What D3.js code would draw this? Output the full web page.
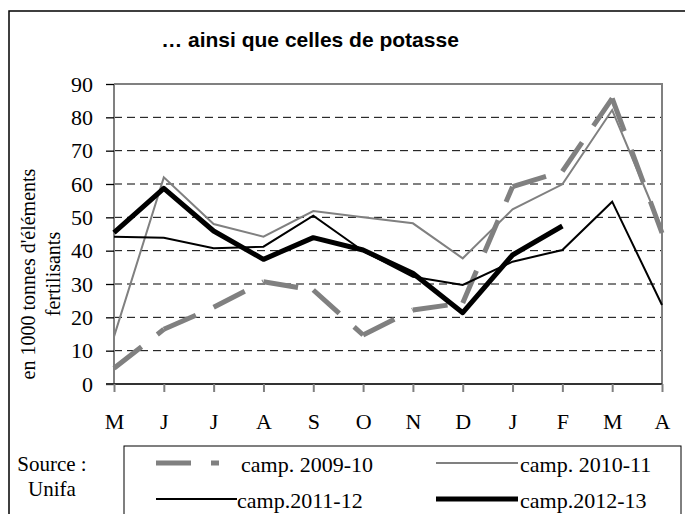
<!DOCTYPE html>
<html><head><meta charset="utf-8">
<script src="https://cdn.jsdelivr.net/npm/d3@7/dist/d3.min.js"></script>
<style>body{margin:0;background:#fff}svg{display:block}
.serif{font-family:"Liberation Serif","Times New Roman",serif !important}
</style>
</head><body>
<script>
const months = ["M","J","J","A","S","O","N","D","J","F","M","A"];
const yTicks = [0,10,20,30,40,50,60,70,80,90];
const camp0910 = [4.7,16.4,23,30.7,28.2,14.7,22.2,24.3,59.2,63.8,85.7,45.3];
const camp1011 = [14.2,62,48,44.2,51.9,50,48.2,37.7,52.4,59.9,82.2,46.5];
const camp1112 = [44.2,43.9,40.7,41.2,50.5,39.9,32.2,29.7,36.7,40.2,54.7,23.7];
const camp1213 = [45.4,58.7,45.9,37.4,43.9,40.2,33.2,21.4,38.7,47.4];
const seriesNames = ["camp. 2009-10","camp. 2010-11","camp.2011-12","camp.2012-13"];

const W=685,H=514;
const svg=d3.select("body").append("svg").attr("width",W).attr("height",H);

// outer frame
svg.append("rect").attr("x",9).attr("y",11).attr("width",700).attr("height",540)
  .attr("fill","none").attr("stroke","#000").attr("stroke-width",1.5);

svg.append("text").attr("x",310).attr("y",47).attr("text-anchor","middle")
  .style("font-family","'Liberation Sans',Arial,sans-serif").attr("font-weight","bold")
  .attr("font-size",21).text("… ainsi que celles de potasse");

const x=d3.scalePoint().domain(d3.range(months.length)).range([114,662]);
const y=d3.scaleLinear().domain([0,90]).range([384,84]);

// gridlines
svg.append("g").selectAll("line").data(yTicks.filter(t=>t>0&&t<90)).join("line")
  .attr("x1",114).attr("x2",662).attr("y1",d=>y(d)).attr("y2",d=>y(d))
  .attr("stroke","#000").attr("stroke-width",1).attr("stroke-dasharray","8,5");

// plot frame top & right
svg.append("path").attr("d",`M114,${y(90)}H662V${y(0)}`).attr("fill","none")
  .attr("stroke","#808080").attr("stroke-width",2);

// y axis
const ya=svg.append("g").attr("transform","translate(114,0)")
  .call(d3.axisLeft(y).tickValues(yTicks).tickSize(8).tickPadding(13).tickFormat(d3.format("d")));
ya.attr("font-family",null);
ya.select(".domain").attr("stroke","#808080").attr("stroke-width",2).attr("d",`M0,${y(0)}V${y(90)}`);
ya.selectAll(".tick line").attr("stroke","#000").attr("stroke-width",1.3);
ya.selectAll("text").attr("class","serif").attr("font-size",22).attr("fill","#000");

// x axis
const xa=svg.append("g").attr("transform",`translate(0,${y(0)})`)
  .call(d3.axisBottom(x).tickSize(8).tickPadding(21).tickFormat(i=>months[i]));
xa.attr("font-family",null);
xa.select(".domain").attr("stroke","#333").attr("stroke-width",2).attr("d","M106,0H662");
xa.selectAll(".tick line").attr("stroke","#808080").attr("stroke-width",2);
xa.selectAll("text").attr("class","serif").attr("font-size",22).attr("fill","#000");

// y title
const yt=svg.append("g").attr("transform","translate(0,274) rotate(-90)");
yt.append("text").attr("class","serif").attr("x",0).attr("y",35).attr("text-anchor","middle")
  .attr("font-size",20).text("en 1000 tonnes d'éléments");
yt.append("text").attr("class","serif").attr("x",0).attr("y",60).attr("text-anchor","middle")
  .attr("font-size",20).text("fertilisants");

const line=d3.line().x((d,i)=>x(i)).y(d=>y(d));
const lineXY=d3.line().x(d=>x(d[0])).y(d=>y(d[1]));

// 2009-10 dashed, pattern restarting at each vertex
const segs=d3.pairs(camp0910.map((v,i)=>[i,v]));
svg.append("g").selectAll("path").data(segs).join("path")
  .attr("d",d=>lineXY(d)).attr("fill","none").attr("stroke","#808080")
  .attr("stroke-width",5).attr("stroke-dasharray","35,20");
svg.append("path").attr("d",line(camp1011)).attr("fill","none").attr("stroke","#808080").attr("stroke-width",2);
svg.append("path").attr("d",line(camp1112)).attr("fill","none").attr("stroke","#000").attr("stroke-width",2);
svg.append("path").attr("d",line(camp1213)).attr("fill","none").attr("stroke","#000").attr("stroke-width",5)
  .attr("stroke-linejoin","round");

// source
svg.append("text").attr("class","serif").attr("x",52).attr("y",471).attr("text-anchor","middle").attr("font-size",21).text("Source :");
svg.append("text").attr("class","serif").attr("x",52).attr("y",496).attr("text-anchor","middle").attr("font-size",21).text("Unifa");

// legend
svg.append("rect").attr("x",124).attr("y",446).attr("width",557).attr("height",100)
  .attr("fill","none").attr("stroke","#000").attr("stroke-width",1);
const leg=[
  {x1:156,x2:237,y:463,tx:241,ty:472,c:"#808080",w:5,dash:"35,20,8,100"},
  {x1:436,x2:518,y:463,tx:520,ty:472,c:"#808080",w:2,dash:null},
  {x1:156,x2:237,y:499,tx:237,ty:508,c:"#000",w:2,dash:null},
  {x1:436,x2:518,y:499,tx:520,ty:508,c:"#000",w:5,dash:null}
];
leg.forEach((l,i)=>{
  svg.append("line").attr("x1",l.x1).attr("x2",l.x2).attr("y1",l.y).attr("y2",l.y)
    .attr("stroke",l.c).attr("stroke-width",l.w).attr("stroke-dasharray",l.dash);
  svg.append("text").attr("class","serif").attr("x",l.tx).attr("y",l.ty).attr("font-size",22).text(seriesNames[i]);
});
</script>
</body></html>
